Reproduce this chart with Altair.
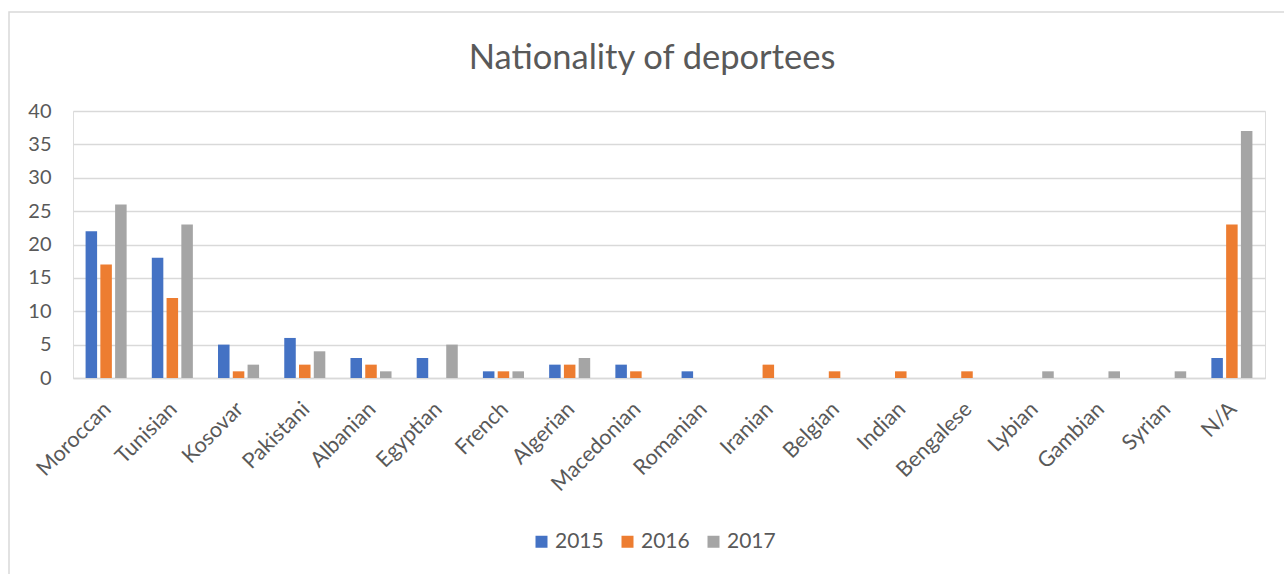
import altair as alt
import pandas as pd

categories = ["Moroccan", "Tunisian", "Kosovar", "Pakistani", "Albanian", "Egyptian",
              "French", "Algerian", "Macedonian", "Romanian", "Iranian", "Belgian",
              "Indian", "Bengalese", "Lybian", "Gambian", "Syrian", "N/A"]
years = ["2015", "2016", "2017"]
v2015 = [22, 18, 5, 6, 3, 3, 1, 2, 2, 1, 0, 0, 0, 0, 0, 0, 0, 3]
v2016 = [17, 12, 1, 2, 2, 0, 1, 2, 1, 0, 2, 1, 1, 1, 0, 0, 0, 23]
v2017 = [26, 23, 2, 4, 1, 5, 1, 3, 0, 0, 0, 0, 0, 0, 1, 1, 1, 37]
colors = ["#4472c4", "#ed7d31", "#a5a5a5"]
y_ticks = [0, 5, 10, 15, 20, 25, 30, 35, 40]

rows = []
for yr, vals in zip(years, [v2015, v2016, v2017]):
    for c, v in zip(categories, vals):
        rows.append({"Nationality": c, "Year": yr, "Count": v})
df = pd.DataFrame(rows)

W, H = 1192, 267
TXT = "#595959"
FONT = "Lato"

bars = alt.Chart(df).mark_bar().encode(
    x=alt.X("Nationality:N", sort=categories,
            scale=alt.Scale(paddingInner=0.38, paddingOuter=0.19),
            axis=alt.Axis(title=None, labelAngle=-45, labelFontSize=21.5, labelColor=TXT,
                          labelFont=FONT, ticks=False, labelPadding=20, labelOffset=-6,
                          domainColor="#d9d9d9", domainWidth=1.5, grid=False)),
    xOffset=alt.XOffset("Year:N", sort=years,
                        scale=alt.Scale(paddingInner=0.22, paddingOuter=0)),
    y=alt.Y("Count:Q", scale=alt.Scale(domain=[0, 40], nice=False),
            axis=alt.Axis(title=None, values=y_ticks, labelFontSize=20, labelColor=TXT,
                          labelFont=FONT, ticks=False, domain=False, labelPadding=22,
                          gridColor="#d9d9d9", gridWidth=1.3)),
    color=alt.Color("Year:N", sort=years,
                    scale=alt.Scale(domain=years, range=colors),
                    legend=alt.Legend(title=None, orient="none", direction="horizontal",
                                      legendX=458, legendY=420, symbolType="square",
                                      symbolSize=144, symbolStrokeWidth=0,
                                      labelFontSize=21, labelColor=TXT, labelFont=FONT,
                                      labelOffset=3, columnPadding=13, padding=0)),
)

frame = alt.Chart(alt.Data(values=[{"a": 1}])).mark_rect(
    fill=None, stroke="#d9d9d9", strokeWidth=1.5
).encode(
    x=alt.value(-64), x2=alt.value(W + 60),
    y=alt.value(-99), y2=alt.value(H + 230),
)

chart = alt.layer(frame, bars).properties(
    width=W, height=H,
    title=alt.TitleParams("Nationality of deportees", fontSize=34.5, color=TXT, font=FONT,
                          fontWeight="normal", anchor="middle", offset=-65, dx=-17),
    autosize=alt.AutoSizeParams(type="none"),
    padding={"left": 73, "top": 111, "right": 19, "bottom": 196},
).configure_view(stroke=None).configure(background="white")

chart.save("out.html", embed_options={"renderer": "svg", "actions": False})
